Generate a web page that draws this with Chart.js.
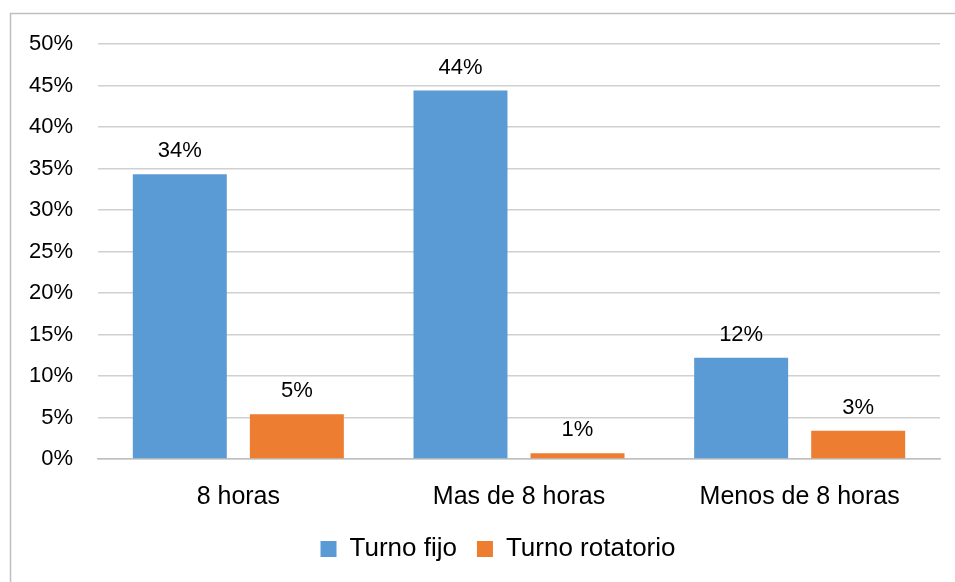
<!DOCTYPE html>
<html>
<head>
<meta charset="utf-8">
<script src="https://cdn.jsdelivr.net/npm/chart.js@4"></script>
<style>
  html, body { margin: 0; padding: 0; background: #fff; }
  #wrap { width: 955px; height: 582px; }
</style>
</head>
<body>
<div id="wrap"><canvas id="chart" width="955" height="582"></canvas></div>
<script>
const categories = ['8 horas', 'Mas de 8 horas', 'Menos de 8 horas']
const turnoFijo = [34.3, 44.4, 12.2]
const turnoRotatorio = [5.4, 0.7, 3.4]
const yTicks = [0, 5, 10, 15, 20, 25, 30, 35, 40, 45, 50]

const FONT = "'Liberation Sans', Arial, sans-serif"

// grey frame around the whole chart
const framePlugin = {
  id: 'frame',
  beforeDraw(chart) {
    const ctx = chart.ctx
    ctx.save()
    ctx.strokeStyle = '#bfbfbf'
    ctx.lineWidth = 1.5
    ctx.strokeRect(10.5, 13.5, chart.width + 20, chart.height + 20)
    ctx.restore()
  }
}

// legend sits a bit right of the canvas centre
const legendShift = {
  id: 'legendShift',
  afterLayout(chart) {
    chart.legend.left += 23
    chart.legend.right += 23
  }
}

// value labels above each bar
const valueLabels = {
  id: 'valueLabels',
  afterDatasetsDraw(chart) {
    const ctx = chart.ctx
    ctx.save()
    ctx.font = '22px ' + FONT
    ctx.fillStyle = '#000'
    ctx.textAlign = 'center'
    ctx.textBaseline = 'bottom'
    chart.data.datasets.forEach((ds, i) => {
      chart.getDatasetMeta(i).data.forEach((bar, j) => {
        ctx.fillText(Math.round(ds.data[j]) + '%', bar.x, bar.y - 12)
      })
    })
    ctx.restore()
  }
}

new Chart(document.getElementById('chart'), {
  type: 'bar',
  data: {
    labels: categories,
    datasets: [
      {
        label: 'Turno fijo',
        data: turnoFijo,
        backgroundColor: '#5b9bd5',
        categoryPercentage: 0.834,
        barPercentage: 0.803
      },
      {
        label: 'Turno rotatorio',
        data: turnoRotatorio,
        backgroundColor: '#ed7d31',
        categoryPercentage: 0.834,
        barPercentage: 0.803
      }
    ]
  },
  plugins: [framePlugin, legendShift, valueLabels],
  options: {
    responsive: false,
    animation: false,
    layout: { padding: { top: 44, left: 10, right: 15, bottom: 10 } },
    plugins: {
      legend: {
        position: 'bottom',
        labels: {
          color: '#000',
          font: { family: FONT, size: 26 },
          boxWidth: 16,
          boxHeight: 16,
          padding: 20,
          useBorderRadius: false
        }
      },
      tooltip: { enabled: false }
    },
    scales: {
      x: {
        grid: { display: false },
        border: { color: '#bfbfbf', width: 1.5 },
        ticks: {
          color: '#000',
          padding: 15,
          font: { family: FONT, size: 25 }
        },
        afterFit: (scale) => { scale.height = 57 }
      },
      y: {
        min: 0,
        max: 50,
        afterBuildTicks: (scale) => { scale.ticks = yTicks.map(v => ({ value: v })) },
        grid: { color: '#d0d0d0', lineWidth: 1.5, drawTicks: false },
        border: { display: false },
        ticks: {
          color: '#000',
          padding: 25,
          font: { family: FONT, size: 22 },
          callback: (v) => v + '%'
        },
        afterFit: (scale) => { scale.width = 88 }
      }
    }
  }
})
</script>
</body>
</html>
